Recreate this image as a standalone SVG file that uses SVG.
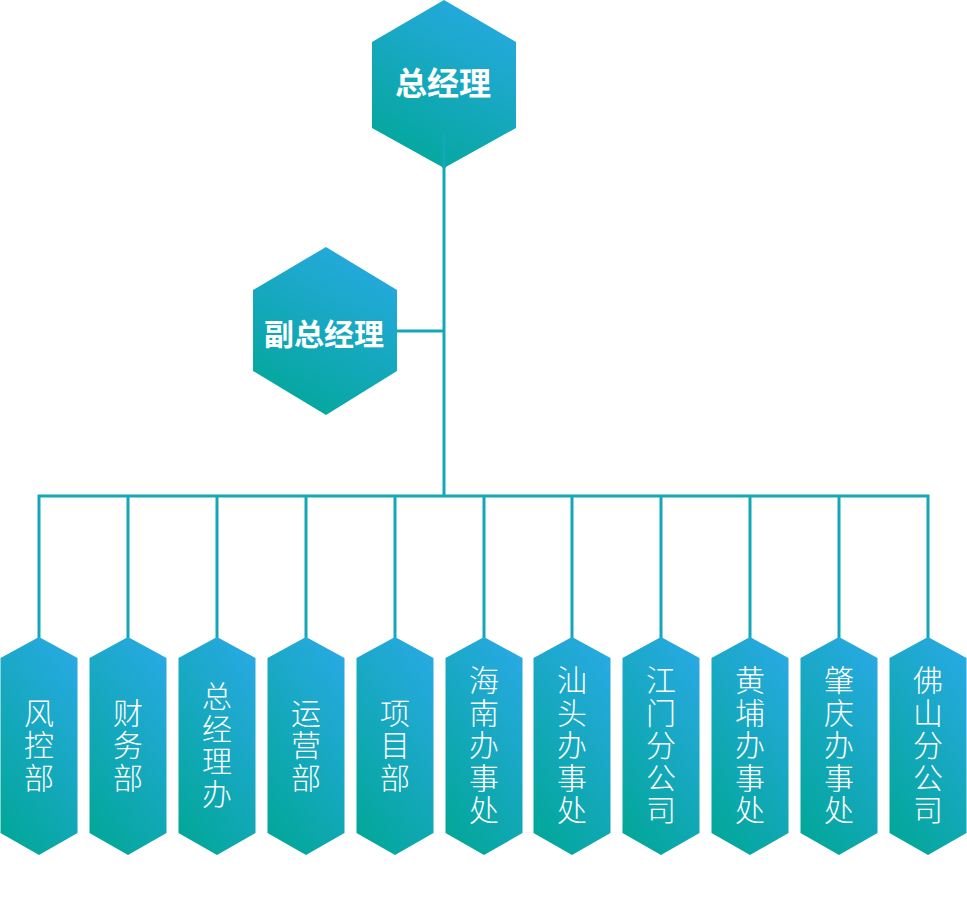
<svg xmlns="http://www.w3.org/2000/svg" width="967" height="918" viewBox="0 0 967 918">
<defs>
<linearGradient id="g" x1="0.25" y1="1" x2="0.75" y2="0">
<stop offset="0" stop-color="#03a79a"/>
<stop offset="1" stop-color="#27a9e1"/>
</linearGradient>
<style>
.hex{fill:url(#g);}
.ln{stroke:#14a7b6;stroke-width:3;fill:none;}
.big{font-family:"Noto Sans CJK SC","Noto Sans",sans-serif;font-weight:bold;fill:#fff;text-anchor:middle;dominant-baseline:central;}
.sm{font-family:"Noto Sans CJK SC","Noto Sans",sans-serif;font-weight:300;font-size:30px;fill:#fff;text-anchor:middle;writing-mode:vertical-rl;text-orientation:upright;letter-spacing:2.5px;dominant-baseline:central;}
</style>
<polygon id="bh" points="0,-109 38.5,-88 38.5,87 0,109 -38.5,87 -38.5,-88"/>
</defs>
<rect width="967" height="918" fill="#fff"/>
<g id="connectors">
<line class="ln" x1="444" y1="133" x2="444" y2="496"/>
<line class="ln" x1="396" y1="331" x2="444" y2="331"/>
<polyline class="ln" points="39,640 39,496 928,496 928,640"/>
<line class="ln" x1="128" y1="496" x2="128" y2="640"/>
<line class="ln" x1="217" y1="496" x2="217" y2="640"/>
<line class="ln" x1="306" y1="496" x2="306" y2="640"/>
<line class="ln" x1="395" y1="496" x2="395" y2="640"/>
<line class="ln" x1="484" y1="496" x2="484" y2="640"/>
<line class="ln" x1="572" y1="496" x2="572" y2="640"/>
<line class="ln" x1="661" y1="496" x2="661" y2="640"/>
<line class="ln" x1="750" y1="496" x2="750" y2="640"/>
<line class="ln" x1="839" y1="496" x2="839" y2="640"/>
</g>
<g id="n-top">
<polygon class="hex" points="444,0 516,42 516,128 444,168 372,128 372,42"/>
<line class="ln" x1="444" y1="133" x2="444" y2="168"/>
<text class="big" x="443" y="81" font-size="32">总经理</text>
</g>
<g id="n-vice">
<polygon class="hex" points="326,247 397,290 397,371 326,415 253,371 253,290"/>
<text class="big" x="324" y="332" font-size="30">副总经理</text>
</g>
<g id="n1" transform="translate(39,746)"><use href="#bh" class="hex"/><text class="sm" x="0" y="0">风控部</text></g>
<g id="n2" transform="translate(128,746)"><use href="#bh" class="hex"/><text class="sm" x="0" y="0">财务部</text></g>
<g id="n3" transform="translate(217,746)"><use href="#bh" class="hex"/><text class="sm" x="0" y="0">总经理办</text></g>
<g id="n4" transform="translate(306,746)"><use href="#bh" class="hex"/><text class="sm" x="0" y="0">运营部</text></g>
<g id="n5" transform="translate(395,746)"><use href="#bh" class="hex"/><text class="sm" x="0" y="0">项目部</text></g>
<g id="n6" transform="translate(484,746)"><use href="#bh" class="hex"/><text class="sm" x="0" y="0">海南办事处</text></g>
<g id="n7" transform="translate(572,746)"><use href="#bh" class="hex"/><text class="sm" x="0" y="0">汕头办事处</text></g>
<g id="n8" transform="translate(661,746)"><use href="#bh" class="hex"/><text class="sm" x="0" y="0">江门分公司</text></g>
<g id="n9" transform="translate(750,746)"><use href="#bh" class="hex"/><text class="sm" x="0" y="0">黄埔办事处</text></g>
<g id="n10" transform="translate(839,746)"><use href="#bh" class="hex"/><text class="sm" x="0" y="0">肇庆办事处</text></g>
<g id="n11" transform="translate(928,746)"><use href="#bh" class="hex"/><text class="sm" x="0" y="0">佛山分公司</text></g>
</svg>
